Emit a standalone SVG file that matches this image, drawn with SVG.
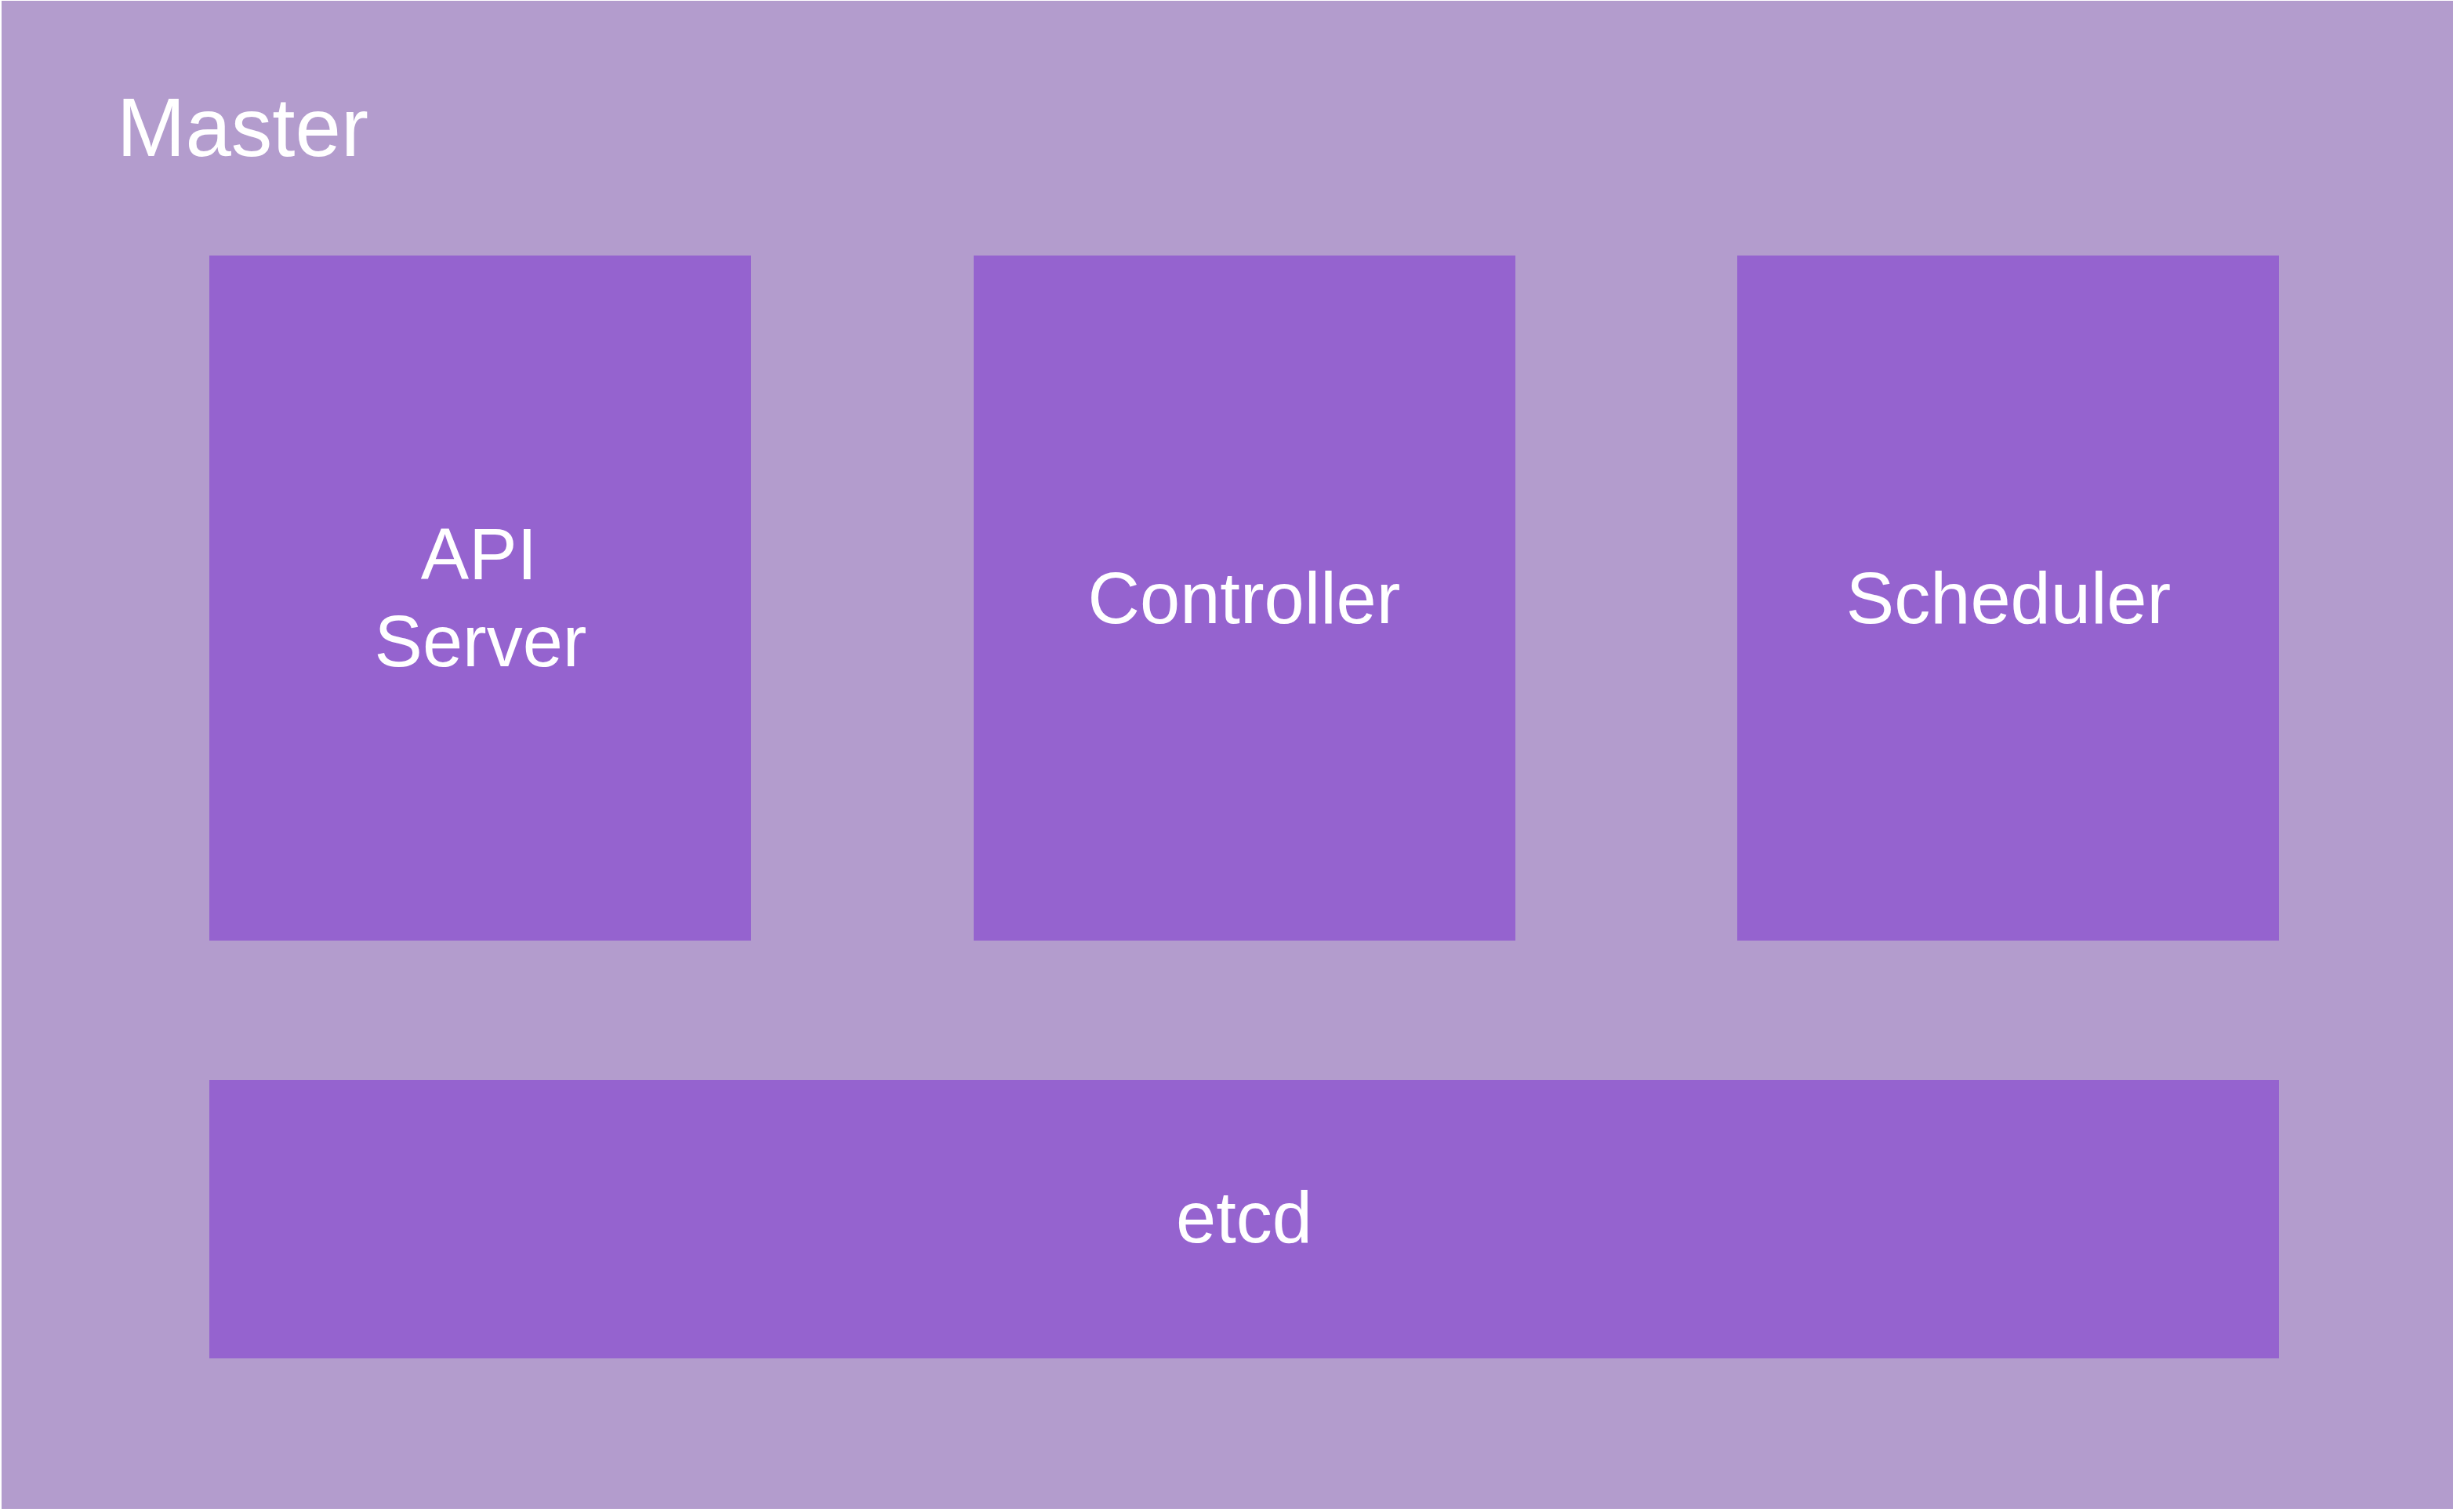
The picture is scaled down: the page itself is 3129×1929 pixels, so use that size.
<svg xmlns="http://www.w3.org/2000/svg" width="3129" height="1929" viewBox="0 0 3129 1929">
<style>
.outer{fill:#B39CCD}
.box{fill:#9563CF}
text{font-family:"Liberation Sans",Arial,Helvetica,sans-serif;fill:#FFFFFF}
.lbl{font-size:92px;text-anchor:middle}
</style>
<rect x="0" y="0" width="3129" height="1929" fill="#FFFFFF"/>
<g id="master">
<rect class="outer" x="2" y="1" width="3127" height="1924"/>
<text x="149" y="199" font-size="105">Master</text>
</g>
<g id="api-server">
<rect class="box" x="267" y="326" width="691" height="874"/>
<text class="lbl" x="611" y="739">API</text>
<text class="lbl" x="613" y="850">Server</text>
</g>
<g id="controller">
<rect class="box" x="1242" y="326" width="691" height="874"/>
<text class="lbl" x="1587" y="795">Controller</text>
</g>
<g id="scheduler">
<rect class="box" x="2216" y="326" width="691" height="874"/>
<text class="lbl" x="2562" y="795">Scheduler</text>
</g>
<g id="etcd">
<rect class="box" x="267" y="1378" width="2640" height="355"/>
<text class="lbl" x="1587" y="1585">etcd</text>
</g>
<g id="connectors"></g>
</svg>
